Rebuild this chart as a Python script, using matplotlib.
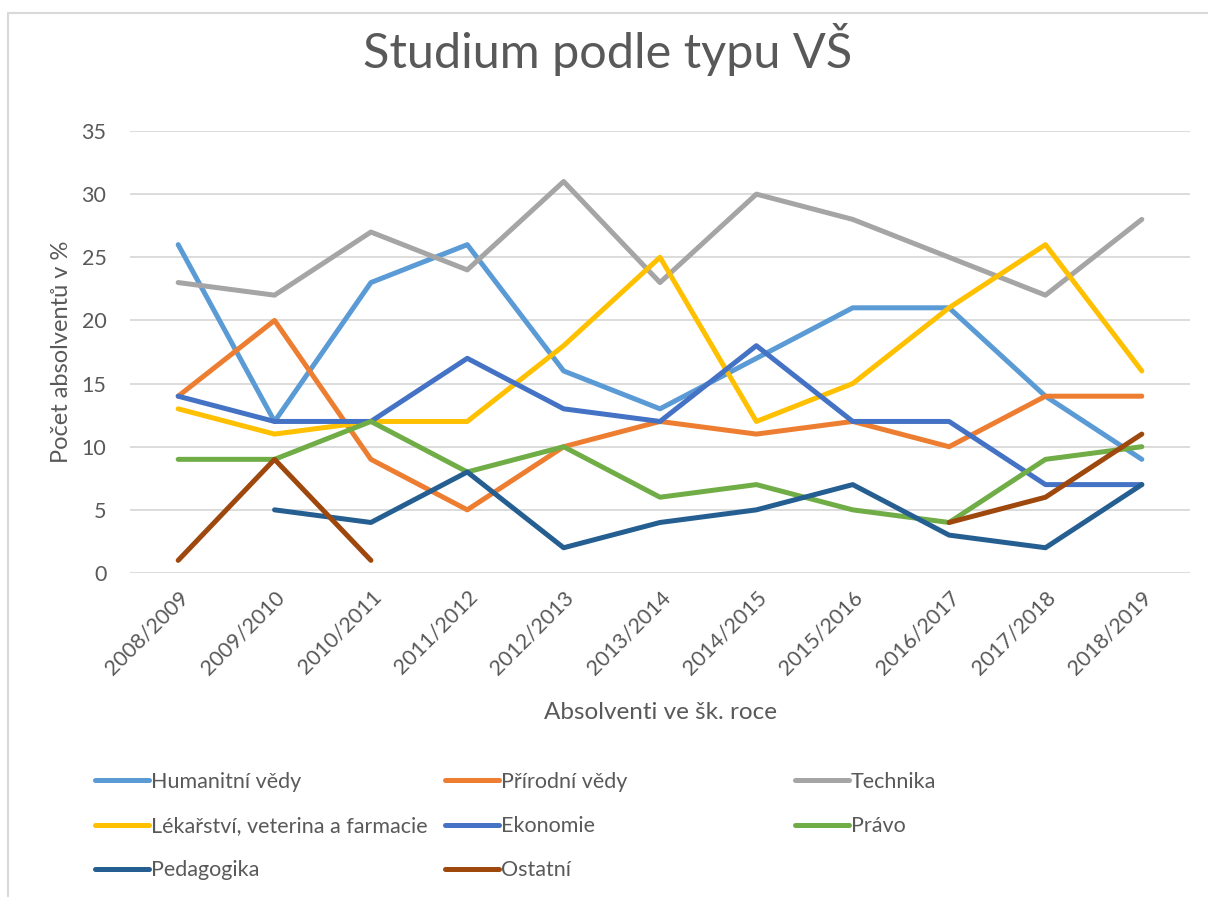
import matplotlib
matplotlib.use("Agg")
import matplotlib.pyplot as plt
import numpy as np
from matplotlib.patches import Rectangle

# data (NaN = no value)
years = ["2008/2009", "2009/2010", "2010/2011", "2011/2012", "2012/2013", "2013/2014",
         "2014/2015", "2015/2016", "2016/2017", "2017/2018", "2018/2019"]
nan = np.nan
humanitni = [26, 12, 23, 26, 16, 13, 17, 21, 21, 14, 9]
prirodni = [14, 20, 9, 5, 10, 12, 11, 12, 10, 14, 14]
technika = [23, 22, 27, 24, 31, 23, 30, 28, 25, 22, 28]
lekarstvi = [13, 11, 12, 12, 18, 25, 12, 15, 21, 26, 16]
ekonomie = [14, 12, 12, 17, 13, 12, 18, 12, 12, 7, 7]
pravo = [9, 9, 12, 8, 10, 6, 7, 5, 4, 9, 10]
pedagogika = [nan, 5, 4, 8, 2, 4, 5, 7, 3, 2, 7]
ostatni = [1, 9, 1, nan, nan, nan, nan, nan, 4, 6, 11]

series = [
    ("Humanitní vědy", humanitni, "#5B9BD5"),
    ("Přírodní vědy", prirodni, "#ED7D31"),
    ("Technika", technika, "#A5A5A5"),
    ("Lékařství, veterina a farmacie", lekarstvi, "#FFC000"),
    ("Ekonomie", ekonomie, "#4472C4"),
    ("Právo", pravo, "#70AD47"),
    ("Pedagogika", pedagogika, "#255E91"),
    ("Ostatní", ostatni, "#9E480E"),
]

plt.rcParams['font.family'] = ['Lato', 'DejaVu Sans']
txt = "#595959"

fig = plt.figure(figsize=(12.08, 8.97), dpi=100)
fig.patches.append(Rectangle((8/1208, -0.1), 1.2, 1.1 - 13/897, transform=fig.transFigure,
                             fill=False, edgecolor="#D9D9D9", linewidth=1.5))

W, H = 1208, 897
ax = fig.add_axes([130/W, 1 - 573/H, (1190 - 130)/W, (573 - 131)/H])

x = np.arange(len(years))
lines = {}
for name, vals, col in series:
    ln, = ax.plot(x, np.array(vals, dtype=float), color=col, lw=3.6,
                  solid_capstyle='round', solid_joinstyle='round')
    lines[name] = ln

ax.set_xlim(-0.5, len(years) - 0.5)
ax.set_ylim(0, 35)
ax.set_yticks(range(0, 36, 5))
ax.set_xticks(x)
ax.set_xticklabels(years, rotation=45, ha='right', rotation_mode='anchor')
ax.tick_params(length=0, labelsize=15.5, colors=txt, pad=10)
ax.tick_params(axis='y', pad=17)
ax.grid(axis='y', color="#D9D9D9", lw=1.3)
ax.set_axisbelow(True)
for s in ax.spines.values():
    s.set_visible(False)

fig.text(608/W, 1 - 50/H, "Studium podle typu VŠ", ha='center', va='center',
         fontsize=35, color=txt)
fig.text(62/W, 1 - 352/H, "Počet absolventů v %", ha='center', va='center',
         rotation=90, fontsize=17, color=txt)
fig.text(660/W, 1 - 712/H, "Absolventi ve šk. roce", ha='center', va='center',
         fontsize=17.5, color=txt)

# legend: three separate columns, filled row by row like Excel
names = [s[0] for s in series]
cols = [names[0::3], names[1::3], names[2::3]]
col_x = [95, 445, 795]
for cx, cn in zip(col_x, cols):
    fig.legend([lines[n] for n in cn], cn, loc='upper left',
               bbox_to_anchor=(cx/W, 1 - 772/H), frameon=False, fontsize=15.5,
               labelcolor=txt, handlelength=2.5, handletextpad=0.1,
               labelspacing=1.12, borderaxespad=0, borderpad=0)

fig.savefig("out.png", dpi=100)
